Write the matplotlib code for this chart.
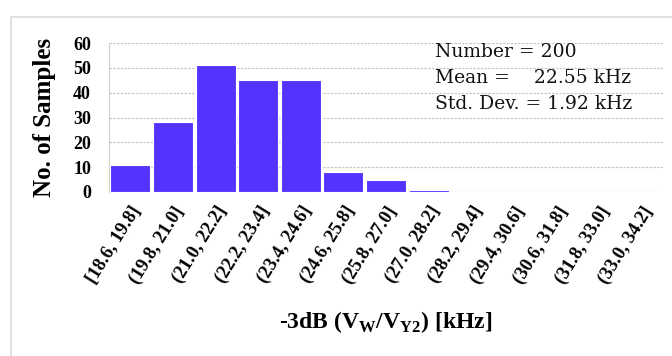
"""Histogram of the -3dB bandwidth over 200 samples."""

import matplotlib.pyplot as plt
from matplotlib.patches import Rectangle

BIN_LABELS = [
    "[18.6, 19.8]", "(19.8, 21.0]", "(21.0, 22.2]", "(22.2, 23.4]",
    "(23.4, 24.6]", "(24.6, 25.8]", "(25.8, 27.0]", "(27.0, 28.2]",
    "(28.2, 29.4]", "(29.4, 30.6]", "(30.6, 31.8]", "(31.8, 33.0]",
    "(33.0, 34.2]",
]
COUNTS = [11, 28, 51, 45, 45, 8, 5, 1, 0, 0, 0, 0, 0]
Y_TICKS = [0, 10, 20, 30, 40, 50, 60]

N_SAMPLES = 200
MEAN_KHZ = 22.55
STD_KHZ = 1.92

BAR_COLOR = "#5533ff"
SERIF = "Liberation Serif"

plt.rcParams["mathtext.fontset"] = "custom"
plt.rcParams["mathtext.rm"] = "Liberation Serif:bold"

fig = plt.figure(figsize=(6.72, 3.56), dpi=100)

# light frame around the chart area
fig.patches.append(Rectangle((11 / 672, -0.2), 1.2, 1 - 17 / 356 + 0.2,
                             transform=fig.transFigure, fill=False,
                             edgecolor="#d9d9d9", linewidth=1.2))

ax = fig.add_axes([109 / 672, 1 - 192 / 356, 554 / 672, 149 / 356])

x = range(len(COUNTS))
ax.bar(x, COUNTS, width=0.94, color=BAR_COLOR, edgecolor="white",
       linewidth=0.8, zorder=3)

ax.set_xlim(-0.5, len(COUNTS) - 0.5)
ax.set_ylim(0, 60)
ax.set_yticks(Y_TICKS)
ax.set_yticklabels([str(v) for v in Y_TICKS], fontfamily=SERIF,
                   fontweight="bold", fontsize=13)
ax.set_xticks(list(x))
ax.set_xticklabels(BIN_LABELS, rotation=58, ha="right", va="top",
                   rotation_mode="anchor", fontfamily=SERIF,
                   fontweight="bold", fontsize=13.5)
ax.tick_params(length=0)
ax.tick_params(axis="y", pad=13)
ax.tick_params(axis="x", pad=8)

for y in Y_TICKS:
    ax.axhline(y, color="#c8c8c8", linewidth=0.9, linestyle=(0, (2, 1)),
               zorder=1)

for side in ("top", "right", "bottom"):
    ax.spines[side].set_visible(False)
ax.spines["left"].set_color("#d0d0d0")

ax.set_ylabel("No. of Samples", fontfamily=SERIF, fontweight="bold",
              fontsize=18, labelpad=12)
ax.set_xlabel(r"-3dB (V$_\mathregular{W}$/V$_\mathregular{Y2}$) [kHz]",
              fontfamily=SERIF, fontweight="bold", fontsize=17, labelpad=16)

stats = [
    f"Number = {N_SAMPLES}",
    f"Mean =    {MEAN_KHZ:.2f} kHz",
    f"Std. Dev. = {STD_KHZ:.2f} kHz",
]
for i, line in enumerate(stats):
    fig.text(435 / 672, 1 - (52 + i * 26) / 356, line, fontfamily="DejaVu Serif",
             fontsize=13.5, va="center", ha="left", color="#111111")

fig.savefig("out.png", dpi=100)
